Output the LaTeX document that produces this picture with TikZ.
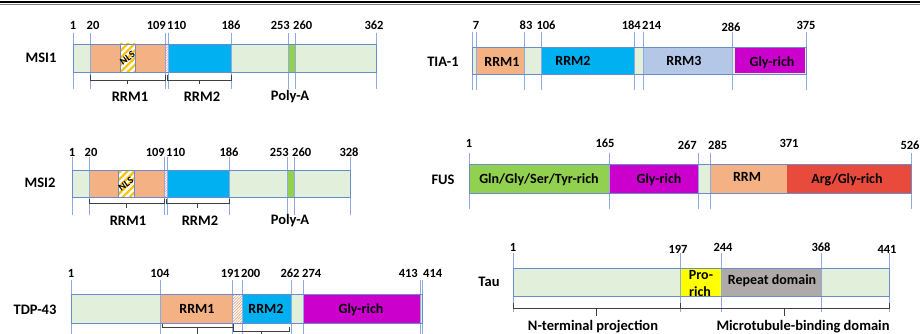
\documentclass[tikz,border=0pt]{standalone}
\usepackage{fontspec}
\setmainfont{Carlito}
\usetikzlibrary{patterns.meta}
\definecolor{bg}{HTML}{E2EFDA}
\definecolor{orng}{HTML}{F4B183}
\definecolor{rblue}{HTML}{00B0F0}
\definecolor{polya}{HTML}{92D050}
\definecolor{mag}{HTML}{CC00CC}
\definecolor{rrmthree}{HTML}{B4C7E7}
\definecolor{argred}{HTML}{E84A3C}
\definecolor{proy}{HTML}{FFFF00}
\definecolor{rep}{HTML}{AEAAAA}
\definecolor{vline}{HTML}{8FAADC}
\definecolor{barblue}{HTML}{6A8CCB}
\definecolor{nlsy}{HTML}{FFC000}
\definecolor{pinkh}{HTML}{E8A0B0}
\definecolor{orh}{HTML}{F0A070}
\definecolor{brkc}{HTML}{404040}
\newcommand\mybrack[5]{\draw[brk] (#1,#3) -- (#1,#4) -- (#2,#4) -- (#2,#3);
  \draw[brk] ({(#1+#2)/2},#4) -- ({(#1+#2)/2},#5);}
\begin{document}
\begin{tikzpicture}[x=1pt,y=-1pt,
  vl/.style={draw=vline, line width=0.8pt},
  barout/.style={draw=barblue, line width=0.7pt},
  num/.style={font=\bfseries\fontsize{12.5}{12.5}\selectfont, inner sep=0pt},
  lab/.style={font=\bfseries\fontsize{14.5}{14.5}\selectfont, inner sep=0pt},
  dom/.style={font=\bfseries\fontsize{14}{14}\selectfont, inner sep=0pt},
  brk/.style={draw=brkc, line width=0.6pt},
  nlsbox/.style={pattern={Lines[angle=45,distance=5pt,line width=2.2pt]}, pattern color=nlsy},
  pinkhatch/.style={pattern={Lines[angle=45,distance=1.8pt,line width=0.6pt]}, pattern color=pinkh},
  orhatch/.style={pattern={Lines[angle=45,distance=2pt,line width=0.6pt]}, pattern color=orh}]
\useasboundingbox (0,0) rectangle (920,334);
\fill[white] (0,0) rectangle (920,334);
\draw[line width=1.6pt] (0,2.2) -- (920,2.2);
\draw[gray, line width=0.6pt] (0,4.4) -- (920,4.4);

% ---------------- MSI1 ----------------
\node[lab] (msi1) at (41,58) {MSI1};
\fill[bg] (73,44) rectangle (376,72);
\fill[orng] (90,44) rectangle (165,72);
\fill[white] (165,44) rectangle (168,72);
\fill[pinkhatch] (165,44) rectangle (168,72);
\draw[purple!60!blue, line width=0.5pt] (165,44) rectangle (168,72);
\fill[rblue] (168,44) rectangle (231,72);
\fill[polya] (288,44) rectangle (295,72);
\fill[white] (120,44) rectangle (135,72);
\fill[nlsbox] (120,44) rectangle (135,72);
\draw[barblue, line width=0.6pt] (120,44) rectangle (135,72);
\node[font=\bfseries\fontsize{10}{10}\selectfont, rotate=35, inner sep=0pt] (nls1) at (127.5,58) {NLS};
\foreach \x in {73,90,165,168,231,288,295,376} \draw[vl] (\x,33) -- (\x,89);
\draw[barout] (73,44) rectangle (376,72);
\node[num] (a1) at (73,25) {1};
\node[num] (a2) at (93,25) {20};
\node[num, anchor=east] (a3) at (166,25) {109};
\node[num, anchor=west] (a4) at (167,25) {110};
\node[num] (a5) at (231,25) {186};
\node[num, anchor=east] (a6) at (290,25) {253};
\node[num, anchor=west] (a7) at (293,25) {260};
\node[num] (a8) at (374,25) {362};
\mybrack{90}{165}{75}{80}{84}
\mybrack{167}{231}{75}{80}{84}
\node[lab] (a9) at (130,97) {RRM1};
\node[lab] (a10) at (202,97) {RRM2};
\node[lab] (a11) at (290,97) {Poly-A};

% ---------------- MSI2 ----------------
\node[lab] (msi2) at (40,183) {MSI2};
\fill[bg] (72,170) rectangle (350,197);
\fill[orng] (89,170) rectangle (164,197);
\fill[white] (164,170) rectangle (167,197);
\fill[pinkhatch] (164,170) rectangle (167,197);
\draw[purple!60!blue, line width=0.5pt] (164,170) rectangle (167,197);
\fill[rblue] (167,170) rectangle (229,197);
\fill[polya] (287,170) rectangle (294,197);
\fill[white] (118,170) rectangle (134,197);
\fill[nlsbox] (118,170) rectangle (134,197);
\draw[barblue, line width=0.6pt] (118,170) rectangle (134,197);
\node[font=\bfseries\fontsize{10}{10}\selectfont, rotate=35, inner sep=0pt] (nls2) at (126,184) {NLS};
\foreach \x in {72,89,164,167,229,287,294,350} \draw[vl] (\x,157) -- (\x,215);
\draw[barout] (72,170) rectangle (350,197);
\node[num] (b1) at (72,152) {1};
\node[num] (b2) at (91,152) {20};
\node[num, anchor=east] (b3) at (165,152) {109};
\node[num, anchor=west] (b4) at (166,152) {110};
\node[num] (b5) at (229,152) {186};
\node[num, anchor=east] (b6) at (289,152) {253};
\node[num, anchor=west] (b7) at (292,152) {260};
\node[num] (b8) at (349,152) {328};
\mybrack{89}{164}{199}{203}{208}
\mybrack{166}{229}{199}{203}{208}
\node[lab] (b9) at (128,221) {RRM1};
\node[lab] (b10) at (200,221) {RRM2};
\node[lab] (b11) at (290,221) {Poly-A};

% ---------------- TDP-43 ----------------
\node[lab] (tdp) at (35,310) {TDP-43};
\fill[bg] (71,294) rectangle (422,323);
\fill[orng] (160,294) rectangle (232,323);
\fill[white] (232,294) rectangle (242,323);
\fill[orhatch] (232,294) rectangle (242,323);
\fill[rblue] (242,294) rectangle (291,323);
\fill[mag] (303,294) rectangle (420,323);
\foreach \x in {71,160,232,242,291,303,420,422} \draw[vl] (\x,280) -- (\x,334);
\draw[barout] (71,294) rectangle (422,323);
\node[dom] (c9) at (197,309) {RRM1};
\node[dom] (c10) at (266,309) {RRM2};
\node[dom] (c11) at (361,310) {Gly-rich};
\node[num] (c1) at (71,273) {1};
\node[num] (c2) at (160,273) {104};
\node[num, anchor=east] (c3) at (240,273) {191};
\node[num, anchor=west] (c4) at (241,273) {200};
\node[num] (c5) at (290,273) {262};
\node[num, anchor=west] (c6) at (302,273) {274};
\node[num, anchor=east] (c7) at (418,273) {413};
\node[num, anchor=west] (c8) at (423,273) {414};
\mybrack{162}{233}{324}{327}{334}
\mybrack{233}{289}{327}{331}{334}

% ---------------- TIA-1 ----------------
\node[lab] (tia) at (443,62) {TIA-1};
\fill[bg] (472,47) rectangle (806,74);
\fill[orng] (476,47) rectangle (524,74);
\fill[rblue] (541,47) rectangle (634,74);
\fill[rrmthree] (643,47) rectangle (732,74);
\fill[mag] (735,48) rectangle (805,73);
\foreach \x in {472,476,524,541,634,643,732,806} \draw[vl] (\x,32) -- (\x,90);
\draw[barout] (472,47) rectangle (806,74);
\node[dom] (d9) at (502,62) {RRM1};
\node[dom] (d10) at (573,61) {RRM2};
\node[dom] (d11) at (684,61) {RRM3};
\node[dom] (d12) at (772,63) {Gly-rich};
\node[num] (d1) at (476,25) {7};
\node[num] (d2) at (526,25) {83};
\node[num] (d3) at (546,25) {106};
\node[num, anchor=east] (d4) at (641,25) {184};
\node[num, anchor=west] (d5) at (642,25) {214};
\node[num] (d6) at (731,27) {286};
\node[num] (d7) at (806,25) {375};

% ---------------- FUS ----------------
\node[lab] (fus) at (443,180) {FUS};
\fill[bg] (469,164) rectangle (911,193);
\fill[polya] (469,164) rectangle (609,193);
\fill[mag] (609,164) rectangle (698,193);
\fill[orng] (710,164) rectangle (787,193);
\fill[argred] (787,164) rectangle (911,193);
\foreach \x in {469,609,698,710,911} \draw[vl] (\x,153) -- (\x,209);
\draw[barout] (469,164) rectangle (911,193);
\node[dom] (e9) at (539,180) {Gln/Gly/Ser/Tyr-rich};
\node[dom] (e10) at (659,180) {Gly-rich};
\node[dom] (e11) at (747,177) {RRM};
\node[dom] (e12) at (847,180) {Arg/Gly-rich};
\node[num] (e1) at (469,143) {1};
\node[num] (e2) at (605,143) {165};
\node[num, anchor=east] (e3) at (697,145) {267};
\node[num, anchor=west] (e4) at (708,145) {285};
\node[num] (e5) at (789,143) {371};
\node[num] (e6) at (910,145) {526};

% ---------------- Tau ----------------
\node[lab] (tau) at (489,282) {Tau};
\fill[bg] (513,268) rectangle (889,296);
\fill[proy] (680,268) rectangle (721,296);
\fill[rep] (721,268) rectangle (821,296);
\foreach \x in {513,680,721,821,889} \draw[vl] (\x,253) -- (\x,312);
\draw[barout] (513,268) rectangle (889,296);
\node[dom] (f9) at (701,275) {Pro-};
\node[dom] (f10) at (700,292) {rich};
\node[dom] (f11) at (772,281) {Repeat domain};
\node[num] (f1) at (513,247) {1};
\node[num] (f2) at (678,249) {197};
\node[num] (f3) at (723,247) {244};
\node[num] (f4) at (821,247) {368};
\node[num] (f5) at (887,249) {441};
\mybrack{513}{680}{303}{308}{316}
\mybrack{680}{889}{303}{308}{316}
\node[lab] (f12) at (593,327) {N-terminal projection};
\node[lab] (f13) at (803,327) {Microtubule-binding domain};
\end{tikzpicture}
\end{document}
